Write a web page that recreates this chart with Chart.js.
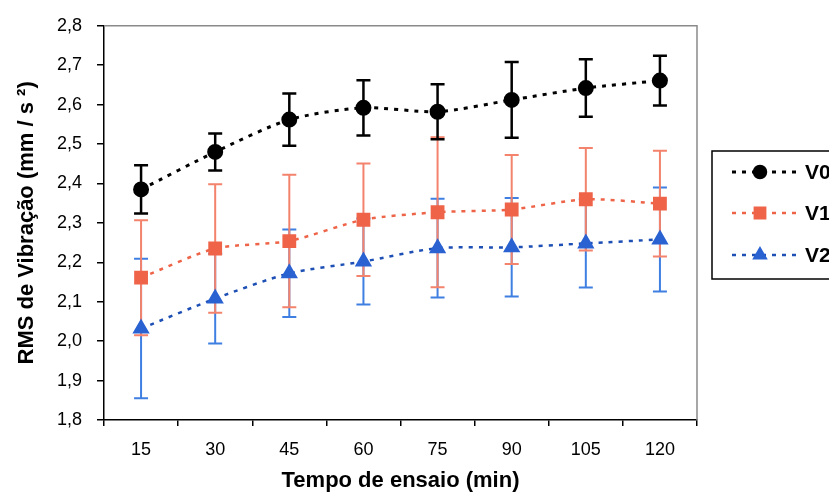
<!DOCTYPE html>
<html>
<head>
<meta charset="utf-8">
<script src="https://cdn.jsdelivr.net/npm/chart.js@4/dist/chart.umd.min.js"></script>
<style>
  html, body { margin: 0; padding: 0; background: #fff; overflow: hidden; }
  #wrap { position: relative; width: 829px; height: 492px; }
</style>
</head>
<body>
<div id="wrap"><canvas id="c" width="829" height="492"></canvas></div>
<script>
const categories = ['15', '30', '45', '60', '75', '90', '105', '120'];
const seriesNames = ['V0', 'V1', 'V2'];
const v0 = [2.385, 2.480, 2.562, 2.592, 2.582, 2.612, 2.642, 2.661];
const v0Err = [0.061, 0.047, 0.066, 0.070, 0.070, 0.096, 0.073, 0.063];
const v1 = [2.161, 2.235, 2.254, 2.308, 2.327, 2.334, 2.360, 2.349];
const v1Err = [0.146, 0.163, 0.168, 0.143, 0.190, 0.138, 0.130, 0.134];
const v2 = [2.032, 2.108, 2.172, 2.202, 2.236, 2.238, 2.248, 2.258];
const v2Err = [0.177, 0.114, 0.111, 0.109, 0.125, 0.125, 0.112, 0.132];
const yMin = 1.8, yMax = 2.8, yStep = 0.1;
const yTitle = 'RMS de Vibração (mm / s ²)';
const xTitle = 'Tempo de ensaio (min)';

const FONT = "'Liberation Sans', Arial, sans-serif";

const errorBarPlugin = {
  id: 'errorBars',
  beforeDatasetsDraw(chart) {
    const ctx = chart.ctx;
    const yScale = chart.scales.y;
    for (let d = chart.data.datasets.length - 1; d >= 0; d--) {
      const ds = chart.data.datasets[d];
      const meta = chart.getDatasetMeta(d);
      if (!ds.errors) continue;
      ctx.save();
      ctx.strokeStyle = ds.errorColor;
      ctx.lineWidth = ds.errorWidth;
      ctx.setLineDash([]);
      meta.data.forEach((pt, i) => {
        const x = pt.x;
        const yt = yScale.getPixelForValue(ds.data[i] + ds.errors[i]);
        const yb = yScale.getPixelForValue(ds.data[i] - ds.errors[i]);
        ctx.beginPath();
        ctx.moveTo(x, yt); ctx.lineTo(x, yb);
        ctx.moveTo(x - 7, yt); ctx.lineTo(x + 7, yt);
        ctx.moveTo(x - 7, yb); ctx.lineTo(x + 7, yb);
        ctx.stroke();
      });
      ctx.restore();
    }
  }
};

const framePlugin = {
  id: 'frame',
  beforeDatasetsDraw(chart) {
    const {ctx, chartArea: a} = chart;
    ctx.save();
    ctx.strokeStyle = '#8a8a8a';
    ctx.lineWidth = 1.5;
    ctx.beginPath();
    ctx.moveTo(a.left, a.top); ctx.lineTo(a.right, a.top); ctx.lineTo(a.right, a.bottom);
    ctx.stroke();
    ctx.restore();
  }
};

const legendPlugin = {
  id: 'customLegend',
  afterDraw(chart) {
    const ctx = chart.ctx;
    const bx = 712, by = 151, bw = 140, bh = 128;
    ctx.save();
    ctx.strokeStyle = '#000';
    ctx.lineWidth = 1.5;
    ctx.strokeRect(bx, by, bw, bh);
    const rows = [172, 213, 255];
    chart.data.datasets.forEach((ds, i) => {
      const y = rows[i];
      ctx.save();
      ctx.strokeStyle = ds.borderColor;
      ctx.lineWidth = ds.borderWidth;
      ctx.setLineDash(ds.borderDash);
      ctx.beginPath();
      ctx.moveTo(732, y); ctx.lineTo(798, y);
      ctx.stroke();
      ctx.restore();
      ctx.save();
      ctx.fillStyle = ds.pointBackgroundColor;
      ctx.strokeStyle = ds.pointBorderColor;
      Chart.helpers.drawPoint(ctx, {pointStyle: ds.pointStyle, radius: ds.pointRadius, rotation: 0, borderWidth: 1}, 760, y);
      ctx.restore();
      ctx.fillStyle = '#000';
      ctx.font = 'bold 21px ' + FONT;
      ctx.textBaseline = 'middle';
      ctx.textAlign = 'left';
      ctx.fillText(ds.label, 805, y + 1);
    });
    ctx.restore();
  }
};

new Chart(document.getElementById('c'), {
  type: 'line',
  data: {
    labels: categories,
    datasets: [
      {
        label: seriesNames[0], data: v0, errors: v0Err,
        borderColor: '#000000', borderWidth: 3, borderDash: [4, 6],
        pointStyle: 'circle', pointRadius: 6.5,
        pointBackgroundColor: '#000000', pointBorderColor: '#000000',
        errorColor: '#000000', errorWidth: 2.5,
        tension: 0.25, fill: false
      },
      {
        label: seriesNames[1], data: v1, errors: v1Err,
        borderColor: '#ee6448', borderWidth: 2.5, borderDash: [4, 6],
        pointStyle: 'rect', pointRadius: 8,
        pointBackgroundColor: '#ef6449', pointBorderColor: '#ef6449',
        errorColor: '#f3836c', errorWidth: 2,
        tension: 0.25, fill: false
      },
      {
        label: seriesNames[2], data: v2, errors: v2Err,
        borderColor: '#1d4fb5', borderWidth: 2.5, borderDash: [4, 6],
        pointStyle: 'triangle', pointRadius: 7.5,
        pointBackgroundColor: '#2a62d2', pointBorderColor: '#2a62d2',
        errorColor: '#3f7fe2', errorWidth: 2,
        tension: 0.25, fill: false
      }
    ]
  },
  options: {
    responsive: false,
    animation: false,
    devicePixelRatio: 1,
    layout: { padding: { left: 0, right: 132, top: 24, bottom: 0 } },
    plugins: {
      legend: { display: false },
      tooltip: { enabled: false }
    },
    elements: { point: { borderWidth: 1 } },
    scales: {
      x: {
        type: 'category',
        offset: true,
        grid: { display: true, drawOnChartArea: false, drawTicks: true, tickLength: 6, offset: true, color: '#000', lineWidth: 1.5 },
        border: { display: true, color: '#000', width: 1.5 },
        ticks: { color: '#000', font: { family: FONT, size: 18 }, padding: 13, maxRotation: 0, autoSkip: false },
        title: { display: true, text: xTitle, color: '#000', font: { family: FONT, size: 22, weight: 'bold' }, padding: { top: 0, bottom: -2 } },
        afterFit(scale) { scale.height = 72; }
      },
      y: {
        min: yMin, max: yMax,
        grid: { display: true, drawOnChartArea: false, drawTicks: true, tickLength: 7, color: '#000', lineWidth: 1.5 },
        border: { display: true, color: '#000', width: 1.5 },
        ticks: {
          stepSize: yStep, color: '#000', font: { family: FONT, size: 18 }, padding: 15,
          callback: (v) => Number(v).toFixed(1).replace('.', ',')
        },
        title: { display: true, text: yTitle, color: '#000', font: { family: FONT, size: 22, weight: 'bold' }, padding: { top: 14, bottom: 0 } },
        afterFit(scale) { scale.width = 104; }
      }
    }
  },
  plugins: [framePlugin, errorBarPlugin, legendPlugin]
});
</script>
</body>
</html>
